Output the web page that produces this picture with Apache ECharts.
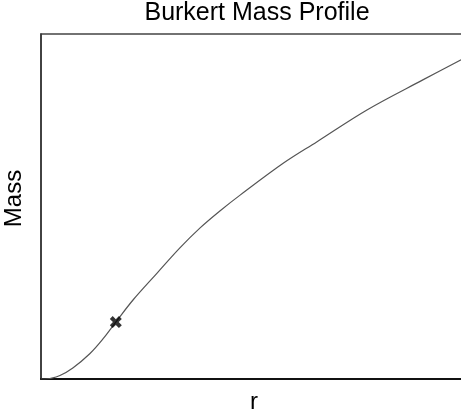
<!DOCTYPE html>
<html>
<head>
<meta charset="utf-8">
<script src="https://cdn.jsdelivr.net/npm/echarts@6/dist/echarts.min.js"></script>
<style>
  html, body { margin: 0; padding: 0; background: #fff; }
  #chart { width: 461px; height: 417px; }
</style>
</head>
<body>
<div id="chart"></div>
<script>
  // mass profile (r, normalised mass)
  var radius = [0, 0.09, 0.21, 0.44, 0.74, 1.14, 1.44, 1.74, 2.14, 2.70, 3.23, 3.70, 4.16, 4.63, 5.64, 6.42, 7.58, 8.88, 9.77];
  var mass = [0, 0, 0.0014, 0.010, 0.032, 0.074, 0.116, 0.165, 0.229, 0.307, 0.380, 0.438, 0.487, 0.533, 0.626, 0.688, 0.780, 0.867, 0.925];
  // marked point
  var markR = [1.74];
  var markM = [0.165];

  var chart = echarts.init(document.getElementById('chart'));

  var curve = radius.map(function (r, i) { return [r, mass[i]]; });
  var marks = markR.map(function (r, i) { return [r, markM[i]]; });

  var crossPath = 'path://M2.4,0 L5,2.6 L7.6,0 L10,2.4 L7.4,5 L10,7.6 L7.6,10 L5,7.4 L2.4,10 L0,7.6 L2.6,5 L0,2.4 Z';

  var option = {
    animation: false,
    title: {
      text: 'Burkert Mass Profile',
      left: 252,
      textAlign: 'center',
      top: -4,
      textStyle: {
        fontFamily: 'Liberation Sans',
        fontWeight: 'normal',
        fontSize: 25,
        color: '#000'
      }
    },
    grid: {
      left: 41,
      top: 34,
      width: 430,
      height: 345,
      outerBoundsMode: 'none',
      containLabel: false,
      show: true,
      borderColor: '#444',
      borderWidth: 1.5
    },
    xAxis: {
      type: 'value',
      min: 0,
      max: 10,
      name: 'r',
      nameLocation: 'middle',
      nameGap: 11,
      nameTextStyle: { fontFamily: 'Liberation Sans', fontSize: 24, color: '#000', padding: [0, 0, 0, -4] },
      axisLine: { show: true, lineStyle: { color: '#111', width: 2 } },
      axisTick: { show: false },
      axisLabel: { show: false },
      splitLine: { show: false }
    },
    yAxis: {
      type: 'value',
      min: 0,
      max: 1,
      name: 'Mass',
      nameLocation: 'middle',
      nameGap: 15,
      nameTextStyle: { fontFamily: 'Liberation Sans', fontSize: 24, color: '#000', padding: [0, 0, 0, 16] },
      axisLine: { show: true, lineStyle: { color: '#333', width: 1.5 } },
      axisTick: { show: false },
      axisLabel: { show: false },
      splitLine: { show: false }
    },
    series: [
      {
        type: 'line',
        data: curve,
        smooth: 0.35,
        showSymbol: false,
        lineStyle: { color: '#555', width: 1.2 },
        z: 2
      },
      {
        type: 'scatter',
        data: marks,
        symbol: crossPath,
        symbolSize: 12,
        itemStyle: { color: '#000' },
        z: 3
      }
    ]
  };

  chart.setOption(option);
  window.addEventListener('resize', function () { chart.resize(); });
</script>
</body>
</html>
